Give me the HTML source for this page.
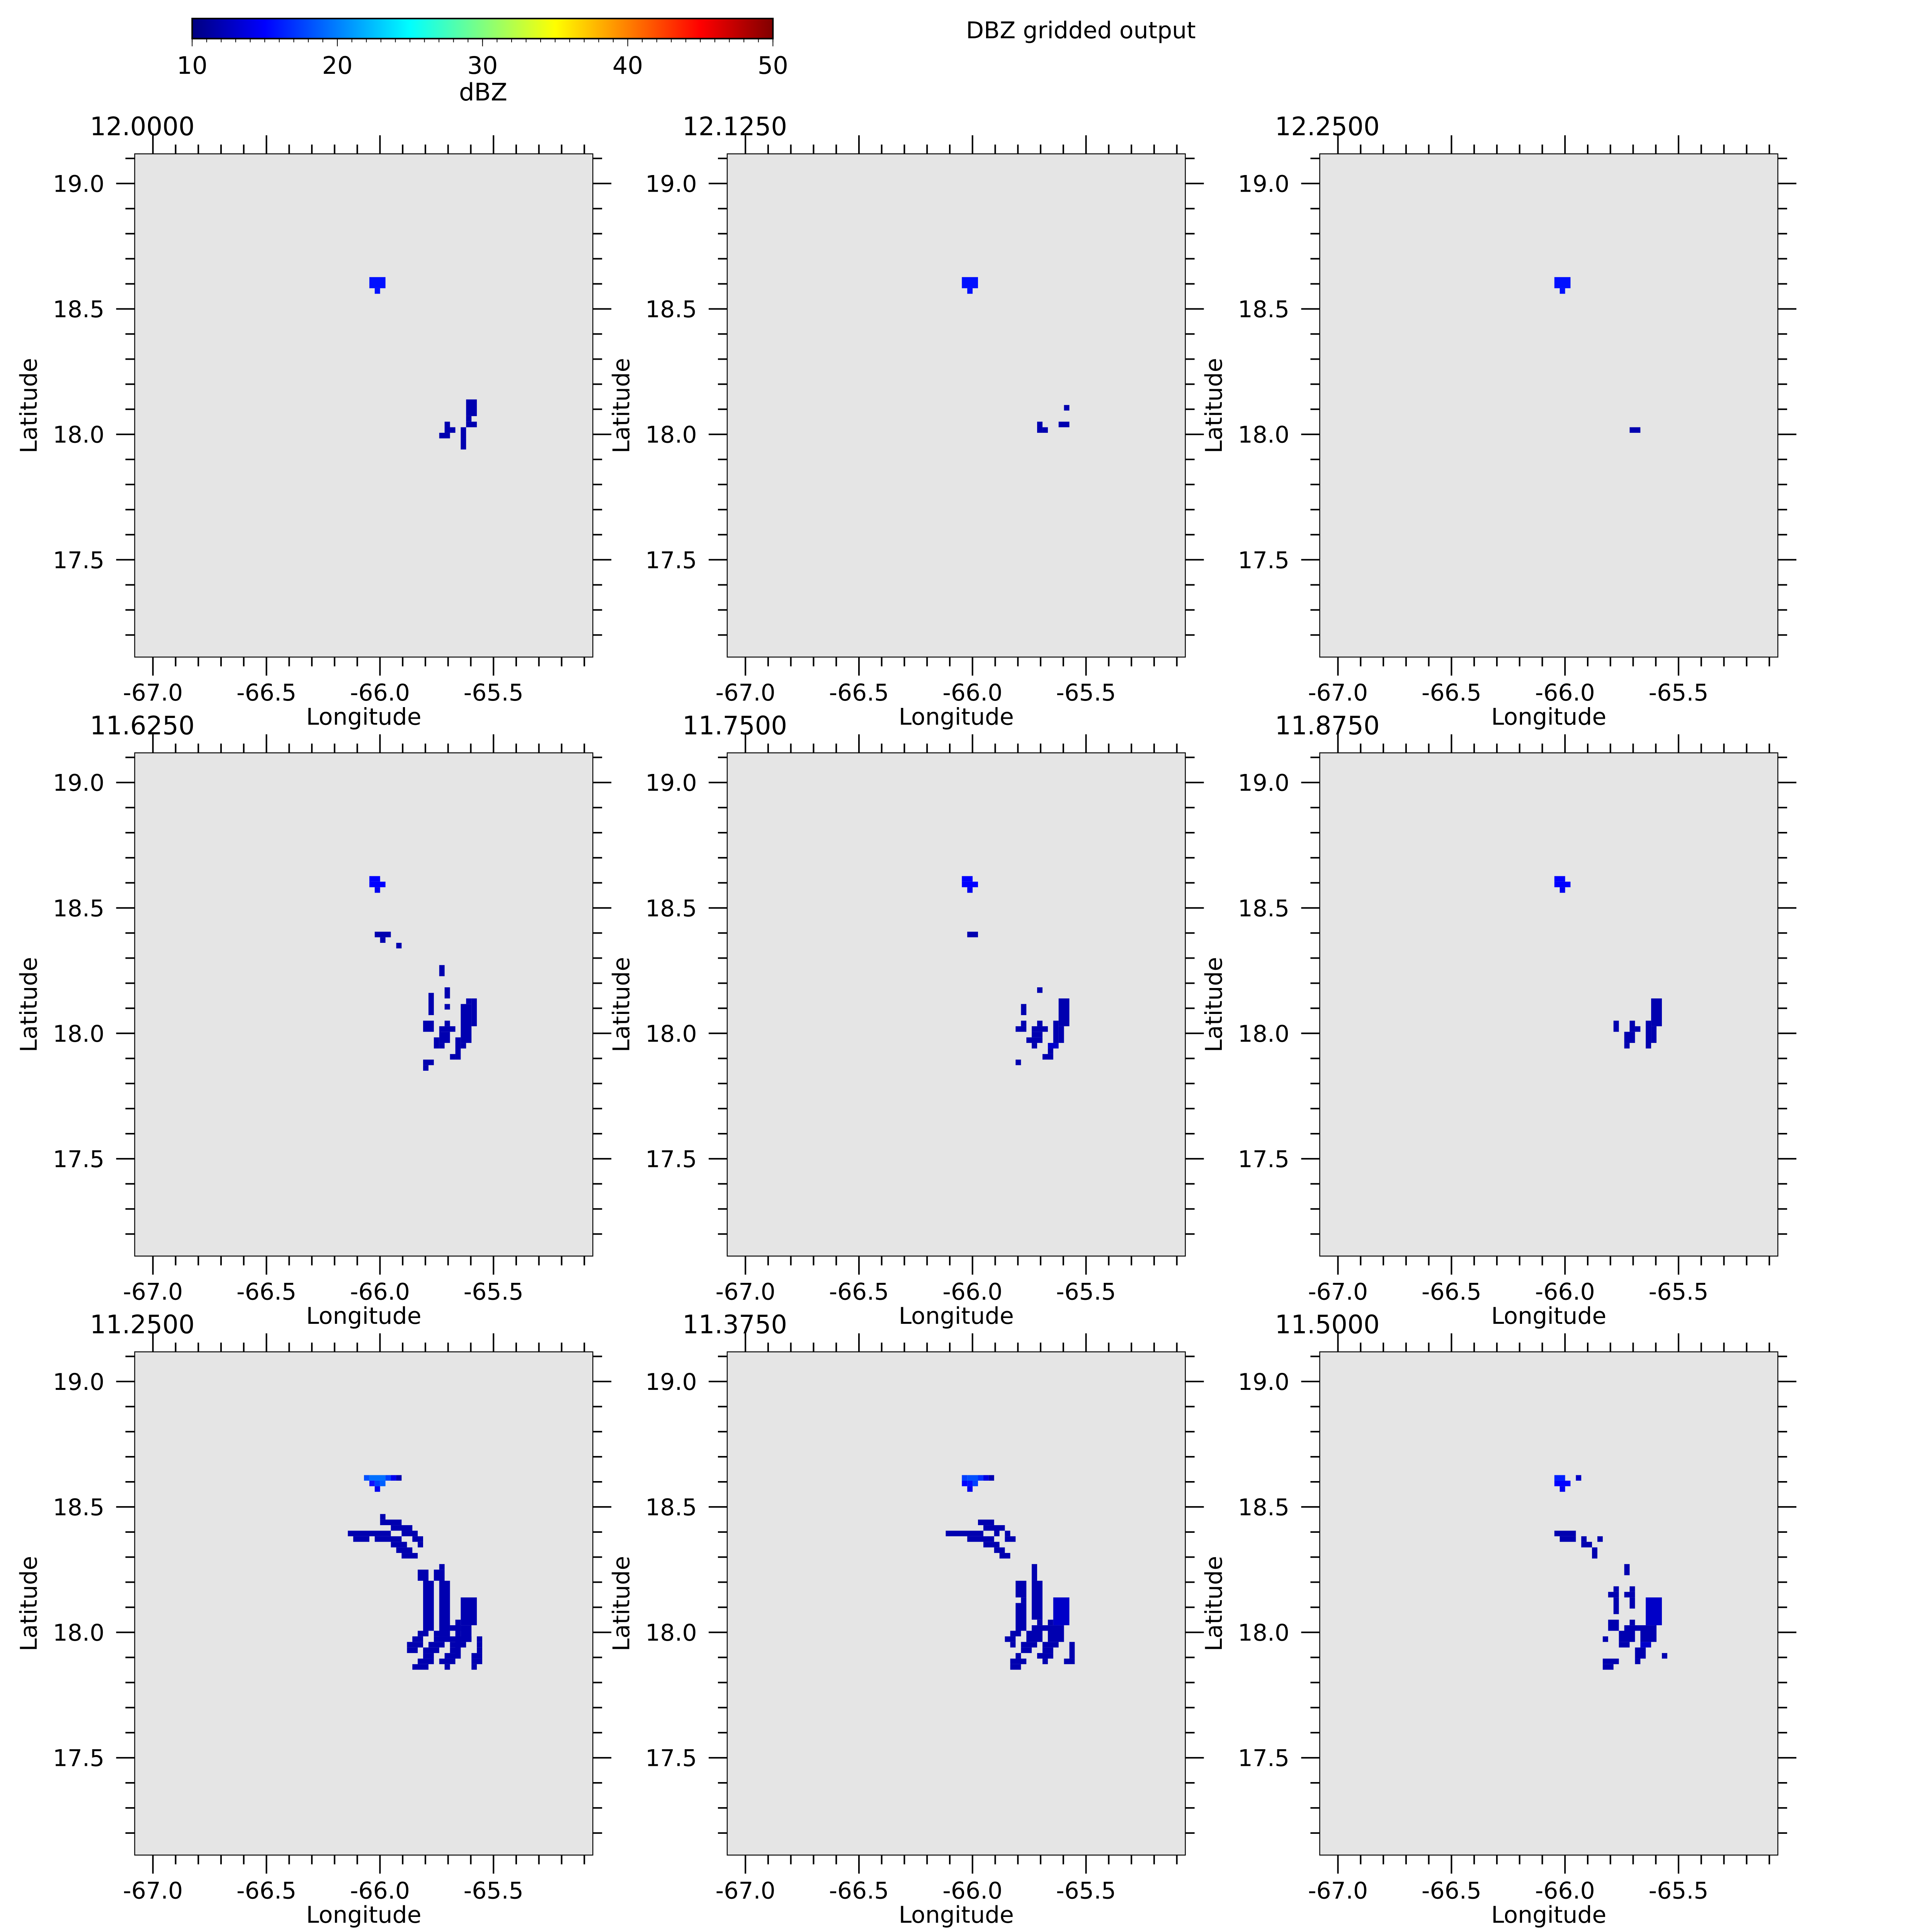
<!DOCTYPE html>
<html><head><meta charset="utf-8"><style>
html,body{margin:0;padding:0;background:#fff;overflow:hidden;width:100%;height:100%;}
svg{display:block;width:100vw;height:100vh;}
text{font-family:"DejaVu Sans","Liberation Sans",sans-serif;font-size:75px;fill:#000;}
.m{text-anchor:middle}.e{text-anchor:end}
.t{font-size:82px}
</style></head><body>
<svg xmlns="http://www.w3.org/2000/svg" viewBox="0 0 6254 6254" preserveAspectRatio="none">
<defs>
<linearGradient id="jet" x1="0" x2="1" y1="0" y2="0">
<stop offset="0" stop-color="#000080"/><stop offset="0.125" stop-color="#0000ff"/>
<stop offset="0.375" stop-color="#00ffff"/><stop offset="0.625" stop-color="#ffff00"/>
<stop offset="0.875" stop-color="#ff0000"/><stop offset="1" stop-color="#800000"/>
</linearGradient>
<g id="ax" fill="none" stroke="#000">
<rect x="0" y="0" width="1483" height="1629" stroke-width="3"/>
<path stroke-width="5" d="M132.5 1629v30M206 1629v30M279.5 1629v30M353 1629v30M500 1629v30M573.5 1629v30M647 1629v30M720.5 1629v30M867.5 1629v30M941 1629v30M1014.5 1629v30M1088 1629v30M1235 1629v30M1308.5 1629v30M1382 1629v30M1455.5 1629v30
M59 1629v60M426.5 1629v60M794 1629v60M1161.5 1629v60
M132.5 0v-30M206 0v-30M279.5 0v-30M353 0v-30M500 0v-30M573.5 0v-30M647 0v-30M720.5 0v-30M867.5 0v-30M941 0v-30M1014.5 0v-30M1088 0v-30M1235 0v-30M1308.5 0v-30M1382 0v-30M1455.5 0v-30
M59 0v-60M426.5 0v-60M794 0v-60M1161.5 0v-60
M0 14.8h-30M0 177.2h-30M0 258.4h-30M0 339.6h-30M0 420.8h-30M0 583.2h-30M0 664.4h-30M0 745.6h-30M0 826.8h-30M0 989.2h-30M0 1070.4h-30M0 1151.6h-30M0 1232.8h-30M0 1395.2h-30M0 1476.4h-30M0 1557.6h-30
M0 96h-60M0 502h-60M0 908h-60M0 1314h-60
M1483 14.8h30M1483 177.2h30M1483 258.4h30M1483 339.6h30M1483 420.8h30M1483 583.2h30M1483 664.4h30M1483 745.6h30M1483 826.8h30M1483 989.2h30M1483 1070.4h30M1483 1151.6h30M1483 1232.8h30M1483 1395.2h30M1483 1476.4h30M1483 1557.6h30
M1483 96h60M1483 502h60M1483 908h60M1483 1314h60"/>
</g>
</defs>
<rect width="6254" height="6254" fill="#fff"/>

<rect x="622" y="60" width="1880" height="65" fill="url(#jet)" stroke="#000" stroke-width="5"/>
<line x1="620.75" y1="131" x2="2503.5" y2="131" stroke="#000" stroke-width="12" stroke-dasharray="2.5 44.5"/>
<line x1="620.75" y1="137.5" x2="2503.5" y2="137.5" stroke="#000" stroke-width="25" stroke-dasharray="2.5 467.5"/>
<text class="m" x="622" y="239" style="font-size:78px">10</text>
<text class="m" x="1092" y="239" style="font-size:78px">20</text>
<text class="m" x="1562" y="239" style="font-size:78px">30</text>
<text class="m" x="2032" y="239" style="font-size:78px">40</text>
<text class="m" x="2502" y="239" style="font-size:78px">50</text>
<text class="m" x="1564" y="325" style="font-size:78px">dBZ</text>
<text x="3127" y="124">DBZ gridded output</text>

<g transform="translate(436,498)">
<rect width="1483" height="1629" fill="#e5e5e5"/>
<g transform="translate(690,399) scale(17.4,18)" fill="#0000b0">
<rect x="4" y="0" width="3" height="2" fill="#0010ff"/><rect x="5" y="2" width="1" height="1" fill="#0010ff"/>
<rect x="22" y="22" width="2" height="3"/><rect x="22" y="25" width="1" height="1"/><rect x="22" y="26" width="2" height="1"/>
<rect x="18" y="26" width="1" height="2"/><rect x="19" y="27" width="1" height="1"/><rect x="17" y="28" width="2" height="1"/>
<rect x="21" y="27" width="1" height="2"/><rect x="21" y="29" width="1" height="2"/>
</g>
<use href="#ax"/>
<text class="t" x="-145" y="-60">12.0000</text>
<text class="e" x="-98" y="123">19.0</text><text class="e" x="-98" y="529">18.5</text><text class="e" x="-98" y="935">18.0</text><text class="e" x="-98" y="1341">17.5</text>
<text class="m" x="59" y="1770">-67.0</text><text class="m" x="426.5" y="1770">-66.5</text><text class="m" x="794" y="1770">-66.0</text><text class="m" x="1161.5" y="1770">-65.5</text>
<text class="m" x="741.5" y="1848">Longitude</text>
<text class="m" transform="translate(-317,815) rotate(-90)">Latitude</text>
</g>

<g transform="translate(2354,498)">
<rect width="1483" height="1629" fill="#e5e5e5"/>
<g transform="translate(690,399) scale(17.4,18)" fill="#0000b0">
<rect x="4" y="0" width="3" height="2" fill="#0010ff"/><rect x="5" y="2" width="1" height="1" fill="#0010ff"/>
<rect x="23" y="23" width="1" height="1"/><rect x="22" y="26" width="2" height="1"/>
<rect x="18" y="26" width="1" height="2"/><rect x="19" y="27" width="1" height="1"/>
</g>
<use href="#ax"/>
<text class="t" x="-145" y="-60">12.1250</text>
<text class="e" x="-98" y="123">19.0</text><text class="e" x="-98" y="529">18.5</text><text class="e" x="-98" y="935">18.0</text><text class="e" x="-98" y="1341">17.5</text>
<text class="m" x="59" y="1770">-67.0</text><text class="m" x="426.5" y="1770">-66.5</text><text class="m" x="794" y="1770">-66.0</text><text class="m" x="1161.5" y="1770">-65.5</text>
<text class="m" x="741.5" y="1848">Longitude</text>
<text class="m" transform="translate(-317,815) rotate(-90)">Latitude</text>
</g>

<g transform="translate(4272,498)">
<rect width="1483" height="1629" fill="#e5e5e5"/>
<g transform="translate(690,399) scale(17.4,18)" fill="#0000b0">
<rect x="4" y="0" width="3" height="2" fill="#0010ff"/><rect x="5" y="2" width="1" height="1" fill="#0010ff"/>
<rect x="18" y="27" width="2" height="1"/>
</g>
<use href="#ax"/>
<text class="t" x="-145" y="-60">12.2500</text>
<text class="e" x="-98" y="123">19.0</text><text class="e" x="-98" y="529">18.5</text><text class="e" x="-98" y="935">18.0</text><text class="e" x="-98" y="1341">17.5</text>
<text class="m" x="59" y="1770">-67.0</text><text class="m" x="426.5" y="1770">-66.5</text><text class="m" x="794" y="1770">-66.0</text><text class="m" x="1161.5" y="1770">-65.5</text>
<text class="m" x="741.5" y="1848">Longitude</text>
<text class="m" transform="translate(-317,815) rotate(-90)">Latitude</text>
</g>

<g transform="translate(436,2437)">
<rect width="1483" height="1629" fill="#e5e5e5"/>
<g transform="translate(690,399) scale(17.4,18)" fill="#0000b0">
<rect x="4" y="0" width="2" height="1" fill="#0000ff"/><rect x="4" y="1" width="3" height="1" fill="#0000ff"/><rect x="5" y="2" width="1" height="1" fill="#0000f0"/>
<rect x="5" y="10" width="3" height="1"/><rect x="6" y="11" width="1" height="1"/><rect x="9" y="12" width="1" height="1"/>
<rect x="17" y="16" width="1" height="2"/><rect x="18" y="20" width="1" height="2"/><rect x="15" y="21" width="1" height="4"/><rect x="18" y="23" width="1" height="1"/>
<rect x="23" y="22" width="1" height="5"/><rect x="22" y="22" width="1" height="1"/><rect x="21" y="23" width="2" height="7"/>
<rect x="14" y="26" width="2" height="2"/><rect x="18" y="26" width="1" height="1"/><rect x="17" y="27" width="3" height="1"/>
<rect x="17" y="28" width="2" height="2"/><rect x="16" y="29" width="1" height="2"/><rect x="17" y="30" width="1" height="1"/>
<rect x="20" y="29" width="1" height="4"/><rect x="21" y="30" width="1" height="1"/><rect x="19" y="32" width="1" height="1"/>
<rect x="14" y="33" width="2" height="1"/><rect x="14" y="34" width="1" height="1"/>
</g>
<use href="#ax"/>
<text class="t" x="-145" y="-60">11.6250</text>
<text class="e" x="-98" y="123">19.0</text><text class="e" x="-98" y="529">18.5</text><text class="e" x="-98" y="935">18.0</text><text class="e" x="-98" y="1341">17.5</text>
<text class="m" x="59" y="1770">-67.0</text><text class="m" x="426.5" y="1770">-66.5</text><text class="m" x="794" y="1770">-66.0</text><text class="m" x="1161.5" y="1770">-65.5</text>
<text class="m" x="741.5" y="1848">Longitude</text>
<text class="m" transform="translate(-317,815) rotate(-90)">Latitude</text>
</g>

<g transform="translate(2354,2437)">
<rect width="1483" height="1629" fill="#e5e5e5"/>
<g transform="translate(690,399) scale(17.4,18)" fill="#0000b0">
<rect x="4" y="0" width="2" height="1" fill="#0000ff"/><rect x="4" y="1" width="3" height="1" fill="#0000ff"/><rect x="5" y="2" width="1" height="1" fill="#0000f0"/>
<rect x="5" y="10" width="2" height="1"/><rect x="18" y="20" width="1" height="1"/>
<rect x="22" y="22" width="2" height="5"/><rect x="15" y="23" width="1" height="2"/>
<rect x="15" y="26" width="1" height="1"/><rect x="14" y="27" width="2" height="1"/><rect x="18" y="26" width="1" height="1"/>
<rect x="17" y="27" width="3" height="1"/><rect x="17" y="28" width="2" height="1"/><rect x="16" y="29" width="3" height="1"/><rect x="17" y="30" width="1" height="1"/>
<rect x="21" y="26" width="1" height="4"/><rect x="22" y="27" width="1" height="3"/>
<rect x="20" y="30" width="2" height="1" fill="#0000cc"/><rect x="20" y="31" width="1" height="1"/><rect x="19" y="32" width="2" height="1"/>
<rect x="14" y="33" width="1" height="1"/>
</g>
<use href="#ax"/>
<text class="t" x="-145" y="-60">11.7500</text>
<text class="e" x="-98" y="123">19.0</text><text class="e" x="-98" y="529">18.5</text><text class="e" x="-98" y="935">18.0</text><text class="e" x="-98" y="1341">17.5</text>
<text class="m" x="59" y="1770">-67.0</text><text class="m" x="426.5" y="1770">-66.5</text><text class="m" x="794" y="1770">-66.0</text><text class="m" x="1161.5" y="1770">-65.5</text>
<text class="m" x="741.5" y="1848">Longitude</text>
<text class="m" transform="translate(-317,815) rotate(-90)">Latitude</text>
</g>

<g transform="translate(4272,2437)">
<rect width="1483" height="1629" fill="#e5e5e5"/>
<g transform="translate(690,399) scale(17.4,18)" fill="#0000b0">
<rect x="4" y="0" width="2" height="1" fill="#0000ff"/><rect x="4" y="1" width="3" height="1" fill="#0000ff"/><rect x="5" y="2" width="1" height="1" fill="#0000f0"/>
<rect x="22" y="22" width="2" height="5"/><rect x="15" y="26" width="1" height="2"/>
<rect x="18" y="26" width="1" height="2"/><rect x="19" y="27" width="1" height="1"/>
<rect x="17" y="28" width="2" height="2"/><rect x="17" y="30" width="1" height="1"/>
<rect x="21" y="26" width="1" height="5"/><rect x="22" y="27" width="1" height="3"/>
</g>
<use href="#ax"/>
<text class="t" x="-145" y="-60">11.8750</text>
<text class="e" x="-98" y="123">19.0</text><text class="e" x="-98" y="529">18.5</text><text class="e" x="-98" y="935">18.0</text><text class="e" x="-98" y="1341">17.5</text>
<text class="m" x="59" y="1770">-67.0</text><text class="m" x="426.5" y="1770">-66.5</text><text class="m" x="794" y="1770">-66.0</text><text class="m" x="1161.5" y="1770">-65.5</text>
<text class="m" x="741.5" y="1848">Longitude</text>
<text class="m" transform="translate(-317,815) rotate(-90)">Latitude</text>
</g>

<g transform="translate(436,4376)">
<rect width="1483" height="1629" fill="#e5e5e5"/>
<g transform="translate(690,399) scale(17.4,18)" fill="#0000b0">
<rect x="3" y="0" width="1" height="1" fill="#0050ff"/><rect x="4" y="0" width="3" height="1" fill="#0070ff"/><rect x="7" y="0" width="1" height="1" fill="#0040ff"/><rect x="8" y="0" width="1" height="1" fill="#0000ee"/><rect x="9" y="0" width="1" height="1"/>
<rect x="4" y="1" width="1" height="1" fill="#1010ff"/><rect x="5" y="1" width="1" height="1" fill="#0040ff"/><rect x="6" y="1" width="1" height="1" fill="#0060ff"/><rect x="5" y="2" width="1" height="1" fill="#0000ee"/>
<rect x="6" y="7" width="1" height="1"/><rect x="6" y="8" width="4" height="1"/><rect x="8" y="9" width="4" height="1"/><rect x="0" y="10" width="8" height="1"/><rect x="10" y="10" width="3" height="1"/>
<rect x="1" y="11" width="3" height="1"/><rect x="5" y="11" width="5" height="1"/><rect x="12" y="11" width="2" height="1"/><rect x="8" y="12" width="3" height="1"/><rect x="13" y="12" width="1" height="1"/>
<rect x="9" y="13" width="3" height="1"/><rect x="10" y="14" width="3" height="1"/>
<rect x="17" y="16" width="1" height="1"/><rect x="13" y="17" width="2" height="2"/><rect x="16" y="17" width="2" height="2"/>
<rect x="14" y="19" width="2" height="9"/><rect x="17" y="19" width="2" height="10"/><rect x="21" y="22" width="3" height="5"/><rect x="20" y="26" width="1" height="7"/><rect x="21" y="27" width="2" height="3"/><rect x="19" y="27" width="2" height="1"/>
<rect x="13" y="28" width="2" height="1"/><rect x="16" y="28" width="3" height="1"/><rect x="12" y="29" width="2" height="1"/><rect x="16" y="29" width="7" height="1"/><rect x="24" y="29" width="1" height="1"/>
<rect x="11" y="30" width="3" height="1"/><rect x="15" y="30" width="3" height="1"/><rect x="19" y="30" width="3" height="1"/><rect x="24" y="30" width="1" height="1"/>
<rect x="11" y="31" width="2" height="1"/><rect x="14" y="31" width="3" height="1"/><rect x="19" y="31" width="2" height="1"/><rect x="24" y="31" width="1" height="1"/>
<rect x="14" y="32" width="2" height="1"/><rect x="18" y="32" width="3" height="1"/><rect x="23" y="32" width="2" height="1"/>
<rect x="13" y="33" width="3" height="1"/><rect x="17" y="33" width="3" height="1"/><rect x="23" y="33" width="2" height="1"/>
<rect x="12" y="34" width="3" height="1"/><rect x="18" y="34" width="1" height="1"/><rect x="23" y="34" width="1" height="1"/>
</g>
<use href="#ax"/>
<text class="t" x="-145" y="-60">11.2500</text>
<text class="e" x="-98" y="123">19.0</text><text class="e" x="-98" y="529">18.5</text><text class="e" x="-98" y="935">18.0</text><text class="e" x="-98" y="1341">17.5</text>
<text class="m" x="59" y="1770">-67.0</text><text class="m" x="426.5" y="1770">-66.5</text><text class="m" x="794" y="1770">-66.0</text><text class="m" x="1161.5" y="1770">-65.5</text>
<text class="m" x="741.5" y="1848">Longitude</text>
<text class="m" transform="translate(-317,815) rotate(-90)">Latitude</text>
</g>

<g transform="translate(2354,4376)">
<rect width="1483" height="1629" fill="#e5e5e5"/>
<g transform="translate(690,399) scale(17.4,18)" fill="#0000b0">
<rect x="4" y="0" width="1" height="1" fill="#0040ff"/><rect x="5" y="0" width="2" height="1" fill="#0050ff"/><rect x="7" y="0" width="1" height="1" fill="#0030ff"/><rect x="8" y="0" width="1" height="1" fill="#0000e0"/><rect x="9" y="0" width="1" height="1"/>
<rect x="4" y="1" width="1" height="1" fill="#0000ff"/><rect x="5" y="1" width="1" height="1" fill="#0010ff"/><rect x="6" y="1" width="1" height="1" fill="#0040ff"/><rect x="5" y="2" width="1" height="1" fill="#0000ee"/>
<rect x="7" y="8" width="3" height="1"/><rect x="8" y="9" width="4" height="1"/><rect x="1" y="10" width="7" height="1"/><rect x="10" y="10" width="1" height="1"/><rect x="12" y="10" width="1" height="1"/>
<rect x="5" y="11" width="5" height="1"/><rect x="12" y="11" width="2" height="1"/><rect x="8" y="12" width="3" height="1"/><rect x="10" y="13" width="2" height="1"/><rect x="11" y="14" width="2" height="1"/>
<rect x="17" y="16" width="1" height="3"/><rect x="17" y="19" width="2" height="7"/><rect x="18" y="26" width="1" height="1"/>
<rect x="14" y="19" width="2" height="3"/><rect x="15" y="22" width="1" height="1"/><rect x="14" y="23" width="2" height="5"/>
<rect x="21" y="22" width="3" height="5" fill="#0000c8"/><rect x="20" y="26" width="1" height="1"/><rect x="17" y="27" width="6" height="1"/>
<rect x="16" y="28" width="3" height="2"/><rect x="20" y="28" width="3" height="2"/><rect x="13" y="28" width="2" height="1"/><rect x="12" y="29" width="2" height="1"/>
<rect x="13" y="30" width="1" height="1"/><rect x="15" y="30" width="3" height="1"/><rect x="19" y="30" width="3" height="1"/><rect x="24" y="30" width="1" height="3"/>
<rect x="15" y="31" width="2" height="1"/><rect x="19" y="31" width="2" height="1"/><rect x="14" y="32" width="1" height="1"/><rect x="18" y="32" width="3" height="1"/>
<rect x="13" y="33" width="3" height="1"/><rect x="19" y="33" width="1" height="1"/><rect x="23" y="33" width="2" height="1"/><rect x="13" y="34" width="2" height="1"/>
</g>
<use href="#ax"/>
<text class="t" x="-145" y="-60">11.3750</text>
<text class="e" x="-98" y="123">19.0</text><text class="e" x="-98" y="529">18.5</text><text class="e" x="-98" y="935">18.0</text><text class="e" x="-98" y="1341">17.5</text>
<text class="m" x="59" y="1770">-67.0</text><text class="m" x="426.5" y="1770">-66.5</text><text class="m" x="794" y="1770">-66.0</text><text class="m" x="1161.5" y="1770">-65.5</text>
<text class="m" x="741.5" y="1848">Longitude</text>
<text class="m" transform="translate(-317,815) rotate(-90)">Latitude</text>
</g>

<g transform="translate(4272,4376)">
<rect width="1483" height="1629" fill="#e5e5e5"/>
<g transform="translate(690,399) scale(17.4,18)" fill="#0000b0">
<rect x="4" y="0" width="2" height="1" fill="#0020ff"/><rect x="8" y="0" width="1" height="1" fill="#0000c8"/><rect x="4" y="1" width="3" height="1" fill="#0000ff"/><rect x="5" y="2" width="1" height="1" fill="#0000f0"/>
<rect x="4" y="10" width="4" height="1"/><rect x="5" y="11" width="3" height="1"/><rect x="9" y="11" width="1" height="1"/><rect x="12" y="11" width="1" height="1"/>
<rect x="9" y="12" width="2" height="1"/><rect x="11" y="13" width="1" height="2"/><rect x="17" y="16" width="1" height="2"/>
<rect x="15" y="20" width="1" height="1"/><rect x="18" y="20" width="1" height="1"/><rect x="14" y="21" width="2" height="1"/><rect x="17" y="21" width="2" height="1"/>
<rect x="15" y="22" width="1" height="3"/><rect x="18" y="22" width="1" height="2"/><rect x="21" y="22" width="3" height="5" fill="#0000c8"/>
<rect x="14" y="26" width="2" height="2"/><rect x="18" y="26" width="1" height="1"/><rect x="17" y="27" width="6" height="1"/>
<rect x="16" y="28" width="3" height="2"/><rect x="20" y="28" width="3" height="2"/><rect x="13" y="29" width="1" height="1"/>
<rect x="16" y="30" width="2" height="1"/><rect x="20" y="30" width="2" height="1" fill="#0000cc"/><rect x="19" y="31" width="2" height="2"/><rect x="24" y="32" width="1" height="1"/>
<rect x="13" y="33" width="3" height="1"/><rect x="19" y="33" width="1" height="1"/><rect x="13" y="34" width="2" height="1"/>
</g>
<use href="#ax"/>
<text class="t" x="-145" y="-60">11.5000</text>
<text class="e" x="-98" y="123">19.0</text><text class="e" x="-98" y="529">18.5</text><text class="e" x="-98" y="935">18.0</text><text class="e" x="-98" y="1341">17.5</text>
<text class="m" x="59" y="1770">-67.0</text><text class="m" x="426.5" y="1770">-66.5</text><text class="m" x="794" y="1770">-66.0</text><text class="m" x="1161.5" y="1770">-65.5</text>
<text class="m" x="741.5" y="1848">Longitude</text>
<text class="m" transform="translate(-317,815) rotate(-90)">Latitude</text>
</g>
</svg>
</body></html>
